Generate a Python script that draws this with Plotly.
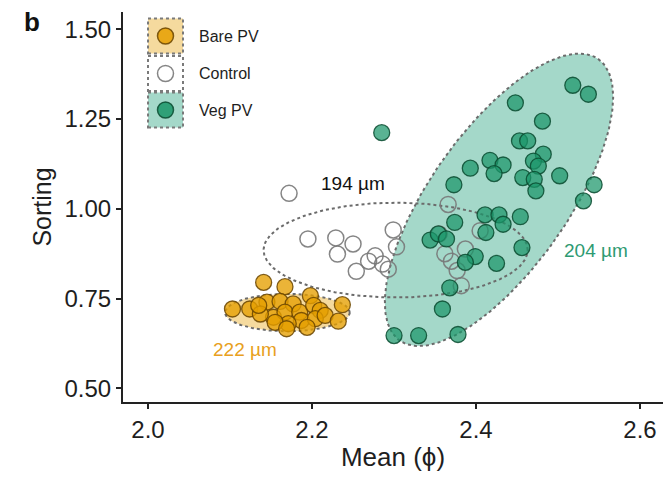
import numpy as np
import plotly.graph_objects as go

# ---- grain-size statistics per site (Mean phi, Sorting) ----
bare_mean = [2.141, 2.167, 2.198, 2.103, 2.124, 2.145, 2.161, 2.177, 2.153, 2.167,
             2.185, 2.202, 2.210, 2.187, 2.171, 2.155, 2.204, 2.216, 2.237, 2.232,
             2.194, 2.169, 2.137, 2.135]
bare_sort = [0.795, 0.783, 0.758, 0.721, 0.721, 0.740, 0.742, 0.735, 0.698, 0.712,
             0.712, 0.731, 0.717, 0.689, 0.680, 0.684, 0.694, 0.703, 0.733, 0.687,
             0.670, 0.666, 0.707, 0.731]

control_mean = [2.172, 2.195, 2.229, 2.250, 2.231, 2.254, 2.269, 2.277, 2.286, 2.293,
                2.299, 2.303, 2.366, 2.355, 2.405, 2.387, 2.370, 2.377, 2.382, 2.362]
control_sort = [1.043, 0.916, 0.919, 0.902, 0.874, 0.826, 0.854, 0.869, 0.846, 0.832,
                0.941, 0.894, 1.012, 0.930, 0.939, 0.888, 0.854, 0.828, 0.786, 0.875]

veg_mean = [2.285, 2.518, 2.537, 2.448, 2.481, 2.453, 2.463, 2.482, 2.470, 2.476,
            2.417, 2.433, 2.422, 2.393, 2.457, 2.471, 2.473, 2.502, 2.373, 2.544,
            2.531, 2.411, 2.428, 2.433, 2.454, 2.374, 2.344, 2.354, 2.364, 2.412,
            2.456, 2.399, 2.425, 2.387, 2.368, 2.359, 2.300, 2.330, 2.378]
veg_sort = [1.212, 1.344, 1.319, 1.295, 1.244, 1.189, 1.189, 1.152, 1.133, 1.119,
            1.135, 1.122, 1.098, 1.113, 1.087, 1.082, 1.050, 1.092, 1.067, 1.067,
            1.022, 0.983, 0.983, 0.957, 0.978, 0.962, 0.913, 0.930, 0.916, 0.934,
            0.892, 0.867, 0.848, 0.851, 0.780, 0.721, 0.647, 0.647, 0.650]

# ---- 95% ellipse summaries: centre and two conjugate half-axis vectors ----
groups = ["Bare PV", "Control", "Veg PV"]
ell_cx = [2.170, 2.302, 2.428]
ell_cy = [0.711, 0.885, 1.025]
ell_ux = [0.076, 0.161, 0.121]
ell_uy = [0.000, 0.000, 0.392]
ell_vx = [0.000, 0.000, 0.0688]
ell_vy = [0.052, 0.132, -0.110]

# median grain size labels
size_text = ["222 \u00b5m", "194 \u00b5m", "204 \u00b5m"]
size_x = [2.118, 2.250, 2.546]
size_y = [0.608, 1.070, 0.883]

x_ticks = [2.0, 2.2, 2.4, 2.6]
y_ticks = [0.50, 0.75, 1.00, 1.25, 1.50]

FONT = "Arial, 'Liberation Sans', Helvetica, sans-serif"
fills = ["rgba(230,159,0,0.38)", "rgba(0,0,0,0)", "rgba(27,158,119,0.40)"]
label_colors = ["#E8A020", "#111111", "#2E9A72"]
TXT = "#1e1e1e"

fig = go.Figure()

t = np.linspace(0, 2 * np.pi, 240)
# draw veg first so the other outlines sit above its fill
for i in [2, 0, 1]:
    ex = ell_cx[i] + ell_ux[i] * np.cos(t) + ell_vx[i] * np.sin(t)
    ey = ell_cy[i] + ell_uy[i] * np.cos(t) + ell_vy[i] * np.sin(t)
    fig.add_trace(go.Scatter(
        x=ex, y=ey, mode="lines", fill="toself", fillcolor=fills[i],
        line=dict(color="#6b6b6b", width=2, dash="dot"),
        hoverinfo="skip", showlegend=False))

fig.add_trace(go.Scatter(
    x=bare_mean, y=bare_sort, mode="markers", name="Bare PV", showlegend=False,
    marker=dict(size=16, color="rgba(230,159,0,0.78)",
                line=dict(color="rgba(105,68,0,0.85)", width=1.3))))
fig.add_trace(go.Scatter(
    x=control_mean, y=control_sort, mode="markers", name="Control", showlegend=False,
    marker=dict(size=16, color="rgba(255,255,255,0)",
                line=dict(color="rgba(120,120,120,0.9)", width=1.5))))
fig.add_trace(go.Scatter(
    x=veg_mean, y=veg_sort, mode="markers", name="Veg PV", showlegend=False,
    marker=dict(size=16, color="rgba(27,150,105,0.72)",
                line=dict(color="rgba(10,75,48,0.85)", width=1.3))))

for i in range(3):
    fig.add_annotation(x=size_x[i], y=size_y[i], text=size_text[i], showarrow=False,
                       font=dict(family=FONT, size=19, color=label_colors[i]))

# ---- hand-built legend: dotted swatch boxes with a point inside ----
L, R, T, B = 123, 663, 12, 402
W, H = R - L, B - T


def px(xp):
    return (xp - L) / W


def py(yp):
    return (B - yp) / H


leg_fill = ["rgba(230,159,0,0.38)", "rgba(255,255,255,0)", "rgba(27,158,119,0.40)"]
leg_mark = ["rgba(230,159,0,0.85)", "rgba(255,255,255,0)", "rgba(27,150,105,0.85)"]
leg_edge = ["rgba(105,68,0,0.85)", "rgba(120,120,120,0.9)", "rgba(10,75,48,0.85)"]
leg_y = [36, 73.5, 110]
for i in range(3):
    fig.add_shape(type="rect", xref="paper", yref="paper",
                  xsizemode="pixel", ysizemode="pixel",
                  xanchor=px(165.5), yanchor=py(leg_y[i]),
                  x0=-17.5, x1=17.5, y0=-17.5, y1=17.5,
                  fillcolor=leg_fill[i], line=dict(color="#7a7a7a", width=2, dash="dot"))
    fig.add_shape(type="circle", xref="paper", yref="paper",
                  xsizemode="pixel", ysizemode="pixel",
                  xanchor=px(165.5), yanchor=py(leg_y[i]),
                  x0=-8, x1=8, y0=-8, y1=8,
                  fillcolor=leg_mark[i], line=dict(color=leg_edge[i], width=1.5))
    fig.add_annotation(xref="paper", yref="paper", x=px(197), y=py(leg_y[i]),
                       xanchor="left", yanchor="middle", showarrow=False,
                       text=groups[i], font=dict(family=FONT, size=16, color=TXT))

fig.add_annotation(xref="paper", yref="paper", x=px(32), y=py(22),
                   xanchor="center", yanchor="middle", showarrow=False,
                   text="<b>b</b>", font=dict(family=FONT, size=26, color="#111111"))

axis_common = dict(showgrid=False, zeroline=False, showline=True, linecolor="#222222",
                   linewidth=2, ticks="outside", ticklen=5, tickwidth=2,
                   tickcolor="#222222", mirror=False,
                   tickfont=dict(family=FONT, size=24, color=TXT))

fig.update_layout(
    width=667, height=480,
    margin=dict(l=L, r=667 - R, t=T, b=480 - B),
    paper_bgcolor="white", plot_bgcolor="white",
    showlegend=False,
    xaxis=dict(range=[1.9695, 2.628], tickvals=x_ticks,
               ticktext=[f"{v:.1f}" for v in x_ticks],
               title=dict(text="Mean (\u03d5)", font=dict(family=FONT, size=26, color=TXT),
                          standoff=6),
               **axis_common),
    yaxis=dict(range=[0.462, 1.548], tickvals=y_ticks,
               ticktext=[f"{v:.2f}" for v in y_ticks],
               title=dict(text="Sorting", font=dict(family=FONT, size=25, color=TXT),
                          standoff=6),
               **axis_common),
)

fig.write_html("out.html")
